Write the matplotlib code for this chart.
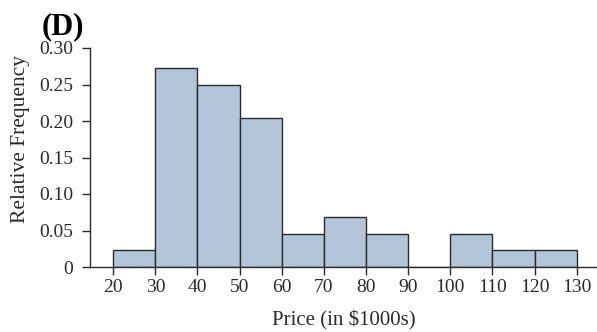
import matplotlib
matplotlib.use("Agg")
import matplotlib.pyplot as plt
import numpy as np

# Data
bin_edges = [20, 30, 40, 50, 60, 70, 80, 90, 100, 110, 120, 130]
rel_freq = [0.0227, 0.2727, 0.2500, 0.2045, 0.0455, 0.0682, 0.0455, 0.0, 0.0455, 0.0227, 0.0227]
y_ticks = [0, 0.05, 0.10, 0.15, 0.20, 0.25, 0.30]
y_tick_labels = ["0", "0.05", "0.10", "0.15", "0.20", "0.25", "0.30"]
x_label = r"Price (in \$1000s)"
y_label = "Relative Frequency"
panel_title = "(D)"

plt.rcParams['font.family'] = ['Liberation Serif', 'DejaVu Serif']

fig = plt.figure(figsize=(5.97, 3.32), dpi=100)
ax = fig.add_axes([90/597, 1-267/332, 1-90/597, (267-48)/332])

edges = np.array(bin_edges)
widths = np.diff(edges)
ax.bar(edges[:-1], rel_freq, width=widths, align='edge',
       color='#b3c5d8', edgecolor='#2b2b2b', linewidth=1.0)

ax.set_xlim(14.5, 134.8)
ax.set_ylim(0, 0.30)
ax.set_xticks(bin_edges)
ax.set_xticklabels([str(v) for v in bin_edges])
ax.set_yticks(y_ticks)
ax.set_yticklabels(y_tick_labels)

for s in ['top', 'right']:
    ax.spines[s].set_visible(False)
for s in ['left', 'bottom']:
    ax.spines[s].set_linewidth(1.0)
    ax.spines[s].set_color('#2b2b2b')

ax.tick_params(axis='both', length=5.8, width=1.0, color='#2b2b2b',
               labelsize=14, labelcolor='#2a2a2a', direction='out')
ax.tick_params(axis='y', pad=6.5)
ax.tick_params(axis='x', pad=3)

ax.set_xlabel(x_label, fontsize=15, color='#2a2a2a', labelpad=10)
ax.set_ylabel(y_label, fontsize=15.5, color='#2a2a2a')
ax.yaxis.set_label_coords(-0.118, 0.584)

fig.text(42/597, 1-34/332, panel_title, fontsize=22, fontweight='bold',
         ha='left', va='baseline', color='black')

fig.savefig("out.png", dpi=100, facecolor='white')
